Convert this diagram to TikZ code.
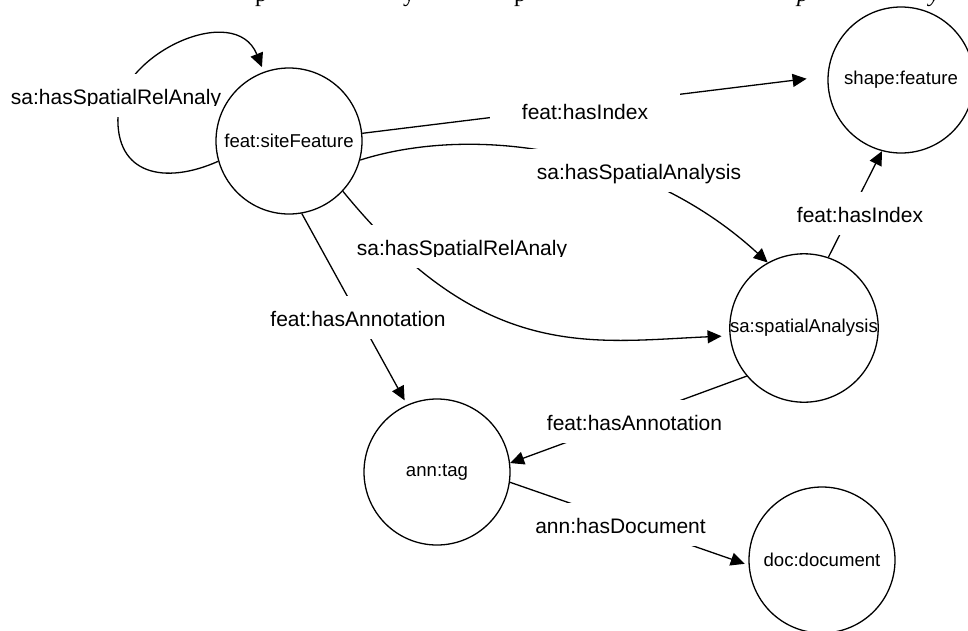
\documentclass[tikz,border=0pt]{standalone}
\usepackage{fontspec}
\setmainfont{Liberation Sans}
\newfontfamily\serifx{Liberation Serif}
\usetikzlibrary{arrows.meta}
\pgfdeclarelayer{bg}
\pgfsetlayers{bg,main}
\begin{document}
\begin{tikzpicture}[x=1pt,y=-1pt,
  circ/.style={circle, draw, line width=1.3pt, minimum size=146pt, inner sep=0pt,
               font=\fontsize{18.6}{22}\selectfont},
  edge/.style={line width=1.3pt, -{Triangle[length=14pt,width=13pt]}},
  lbl/.style={fill=white, inner xsep=32pt, inner ysep=13pt, text height=17pt,
              text depth=0pt, anchor=base, font=\fontsize{21}{25}\selectfont},
  frag/.style={anchor=base west, inner sep=0pt, font=\serifx\fontsize{24}{28}\selectfont}]
\clip (0,0) rectangle (968,630);

% cut-off text line at the top
\node[frag] (f1) at (255,1) {p};
\node[frag] (f2) at (403,1) {y};
\node[frag] (f3) at (514,1) {p};
\node[frag, font=\serifx\itshape\fontsize{24}{28}\selectfont] (f4) at (797,1) {p};
\node[frag, font=\serifx\itshape\fontsize{24}{28}\selectfont] (f5) at (929,1) {y};

% nodes
\node[circ] (sf)    at (289,141) {feat:siteFeature};
\node[circ] (shape) at (901,80)  {shape:feature};
\node[circ] (sa)    at (804,328) {sa:spatialAnalysis};
\node[circ] (ann)   at (437,472) {ann:tag};
\node[circ] (doc)   at (822,560) {doc:document};

\begin{pgfonlayer}{bg}
% feat:hasIndex (top)
\draw[edge, shorten >=21pt] (sf.6) -- (shape.177);
\node[lbl] (l1) at (585,119) {feat:hasIndex};
% sa:hasSpatialAnalysis
\draw[edge] (sf.-15.5) .. controls (470,125) and (640,145) .. (sa.119.4);
\node[lbl] (l2) at (639,179) {sa:hasSpatialAnalysis};
% feat:hasIndex (right)
\draw[edge] (sa.71.8) -- (shape.-105);
\node[lbl] (l5) at (860,222) {feat:hasIndex};
% feat:hasAnnotation (lower)
\draw[edge] (sa.220.8) -- (ann.7.6);
\node[lbl] (l6) at (634.5,430) {feat:hasAnnotation};
% ann:hasDocument
\draw[edge, shorten >=4pt] (ann.-8.5) -- (doc.184);
\node[lbl] (l7) at (620.5,533) {ann:hasDocument};
% self loop
\draw[edge, shorten >=5pt] (sf.196) .. controls (165,185) and (115,175) .. (118,115)
      .. controls (118,55) and (235,0) .. (sf.110.3);
\node[lbl] (l8) at (116,104) {sa:hasSpatialRelAnaly};
\fill[white] (8,105.5) rectangle (226,113);
% feat:hasAnnotation (left)
\draw[edge, shorten >=5pt] (sf.-80.5) -- (ann.114);
\node[lbl, inner xsep=2pt] (l4) at (358,326) {feat:hasAnnotation};
% sa:hasSpatialRelAnaly (middle)
\draw[edge, shorten >=8pt] (sf.-43.9) .. controls (483,363) and (590,342) .. (sa.186);
\node[lbl, inner xsep=20pt] (l3) at (462,255) {sa:hasSpatialRelAnaly};
\fill[white] (354,256.5) rectangle (572,264);
\end{pgfonlayer}
\end{tikzpicture}
\end{document}
